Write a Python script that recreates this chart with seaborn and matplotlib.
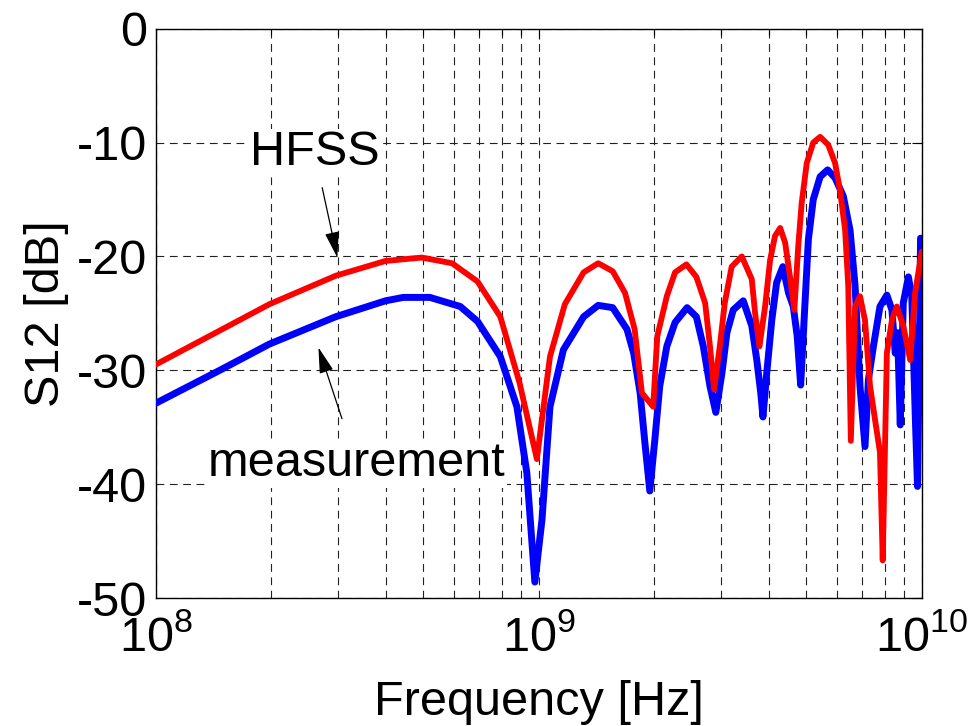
import numpy as np
import pandas as pd
import seaborn as sns
import matplotlib
matplotlib.use("Agg")
import matplotlib.pyplot as plt
from matplotlib.ticker import LogLocator

# HFSS simulation (red)
hfss_freq = [1.0e8, 1.98e8, 2.95e8, 3.98e8, 4.95e8, 5.94e8, 6.92e8, 7.94e8, 8.91e8, 9.89e8,
             1.07e9, 1.17e9, 1.31e9, 1.43e9, 1.56e9, 1.68e9, 1.78e9, 1.86e9, 1.99e9, 2.04e9,
             2.16e9, 2.27e9, 2.43e9, 2.58e9, 2.72e9, 2.80e9, 2.87e9, 2.97e9, 3.06e9, 3.19e9,
             3.39e9, 3.60e9, 3.67e9, 3.77e9, 3.90e9, 4.02e9, 4.14e9, 4.27e9, 4.40e9, 4.53e9,
             4.65e9, 4.76e9, 4.86e9, 5.01e9, 5.21e9, 5.43e9, 5.70e9, 5.94e9, 6.12e9, 6.31e9,
             6.43e9, 6.53e9, 6.70e9, 6.90e9, 7.11e9, 7.33e9, 7.55e9, 7.78e9, 7.91e9, 8.11e9,
             8.36e9, 8.61e9, 8.95e9, 9.33e9, 9.61e9, 1.0e10]
hfss_db = [-29.5, -24.2, -21.7, -20.4, -20.1, -20.6, -22.2, -25.3, -31.1, -37.8,
           -28.8, -24.2, -21.4, -20.6, -21.3, -23.2, -26.4, -32.0, -33.2, -27.0,
           -23.5, -21.4, -20.7, -21.8, -24.1, -27.9, -31.7, -27.9, -24.1, -20.9,
           -20.0, -22.0, -24.9, -27.9, -24.4, -20.3, -18.2, -17.5, -18.8, -21.8,
           -24.7, -19.1, -15.3, -11.8, -10.0, -9.5, -10.2, -11.8, -14.2, -17.7,
           -22.6, -36.2, -24.4, -23.5, -25.6, -31.4, -34.3, -37.2, -46.7, -28.5,
           -25.6, -24.4, -26.1, -29.1, -23.2, -19.6]

# measurement (blue)
meas_freq = [1.0e8, 1.47e8, 1.98e8, 2.95e8, 3.98e8, 4.43e8, 5.20e8, 6.24e8, 6.92e8, 7.94e8,
             8.77e8, 9.31e8, 9.77e8, 1.02e9, 1.07e9, 1.16e9, 1.31e9, 1.43e9, 1.56e9, 1.70e9,
             1.77e9, 1.84e9, 1.89e9, 1.95e9, 2.01e9, 2.07e9, 2.16e9, 2.27e9, 2.44e9, 2.58e9,
             2.69e9, 2.80e9, 2.90e9, 3.01e9, 3.10e9, 3.22e9, 3.42e9, 3.60e9, 3.71e9, 3.80e9,
             3.85e9, 3.94e9, 4.06e9, 4.18e9, 4.34e9, 4.49e9, 4.62e9, 4.73e9, 4.83e9, 4.93e9,
             5.06e9, 5.21e9, 5.43e9, 5.68e9, 5.94e9, 6.24e9, 6.50e9, 6.70e9, 6.90e9, 7.11e9,
             7.26e9, 7.48e9, 7.78e9, 8.11e9, 8.36e9, 8.53e9, 8.65e9, 8.79e9, 8.95e9, 9.23e9,
             9.42e9, 9.61e9, 9.75e9, 9.86e9, 9.93e9]
meas_db = [-32.9, -30.0, -27.7, -25.3, -23.9, -23.6, -23.6, -24.4, -25.7, -28.8,
           -33.2, -39.0, -48.6, -43.1, -33.2, -28.2, -25.3, -24.3, -24.5, -26.4,
           -28.5, -32.0, -36.1, -40.6, -36.1, -31.4, -27.9, -25.8, -24.5, -25.3,
           -27.9, -31.4, -33.7, -30.2, -26.7, -24.7, -23.9, -26.1, -29.1, -32.0,
           -34.1, -30.2, -25.6, -22.3, -20.9, -23.2, -24.4, -27.0, -31.3, -25.6,
           -18.5, -15.0, -13.0, -12.4, -13.1, -14.7, -17.7, -22.6, -31.4, -36.7,
           -30.8, -27.9, -24.4, -23.4, -24.7, -28.5, -26.7, -34.8, -24.1, -21.8,
           -23.5, -33.5, -40.2, -28.5, -18.4]

y_ticks = [0, -10, -20, -30, -40, -50]
x_ticks = [1e8, 1e9, 1e10]
x_tick_labels = ["$10^{8}$", "$10^{9}$", "$10^{10}$"]

df_hfss = pd.DataFrame({"freq": hfss_freq, "s12": hfss_db})
df_meas = pd.DataFrame({"freq": meas_freq, "s12": meas_db})

sns.set_style("white")
plt.rcParams["font.family"] = ["Liberation Sans", "DejaVu Sans"]
plt.rcParams["mathtext.default"] = "regular"
plt.rcParams["axes.unicode_minus"] = False
plt.rcParams["text.color"] = "black"
plt.rcParams["axes.labelcolor"] = "black"
plt.rcParams["xtick.color"] = "black"
plt.rcParams["ytick.color"] = "black"

fig = plt.figure(figsize=(9.69, 7.26), dpi=100)
ax = fig.add_axes([0.1607, 0.1763, 0.7905, 0.7842])

line_kw = dict(estimator=None, sort=False, ax=ax,
               solid_joinstyle="round", solid_capstyle="round")
sns.lineplot(data=df_meas, x="freq", y="s12", color="#0000ff", lw=5.0, zorder=3, **line_kw)
sns.lineplot(data=df_hfss, x="freq", y="s12", color="#ff0000", lw=4.2, zorder=4, **line_kw)

ax.set_xscale("log")
ax.set_xlim(1e8, 1e10)
ax.set_ylim(-50, 0)
ax.set_xticks(x_ticks)
ax.set_xticklabels(x_tick_labels)
ax.xaxis.set_minor_locator(LogLocator(base=10, subs=np.arange(2, 10)))
ax.xaxis.set_minor_formatter(plt.NullFormatter())
ax.set_yticks(y_ticks)
ax.set_yticklabels([str(v) for v in y_ticks])

grid_kw = dict(color="#222222", lw=0.8, linestyle=(0, (7, 5)))
ax.grid(True, which="major", axis="both", **grid_kw)
ax.grid(True, which="minor", axis="x", **grid_kw)
ax.set_axisbelow(True)

for s in ax.spines.values():
    s.set_color("black")
    s.set_linewidth(1.0)
ax.tick_params(which="both", direction="in", top=True, right=True, color="black")
ax.tick_params(which="major", length=7, width=0.8, labelsize=35)
ax.tick_params(which="minor", length=4, width=0.8)
ax.tick_params(axis="x", which="major", pad=12)
ax.tick_params(axis="y", which="major", pad=6)

ax.set_xlabel("Frequency [Hz]", fontsize=35, labelpad=14)
ax.set_ylabel("S12 [dB]", fontsize=35, labelpad=6)

white_box = dict(facecolor="white", edgecolor="none", pad=1)
arrow_kw = dict(arrowstyle="-|>,head_length=0.8,head_width=0.22", color="black",
                lw=0.9, mutation_scale=20, shrinkB=0)
ax.annotate("HFSS", xy=(2.98e8, -20.1), xytext=(2.6e8, -10.9),
            fontsize=35, ha="center", va="center", bbox=white_box,
            arrowprops=dict(shrinkA=8, **arrow_kw), zorder=6)
ax.annotate("measurement", xy=(2.66e8, -28.0), xytext=(3.35e8, -38.2),
            fontsize=35, ha="center", va="center", bbox=white_box,
            arrowprops=dict(shrinkA=16, **arrow_kw), zorder=6)

fig.savefig("out.png", dpi=100)
